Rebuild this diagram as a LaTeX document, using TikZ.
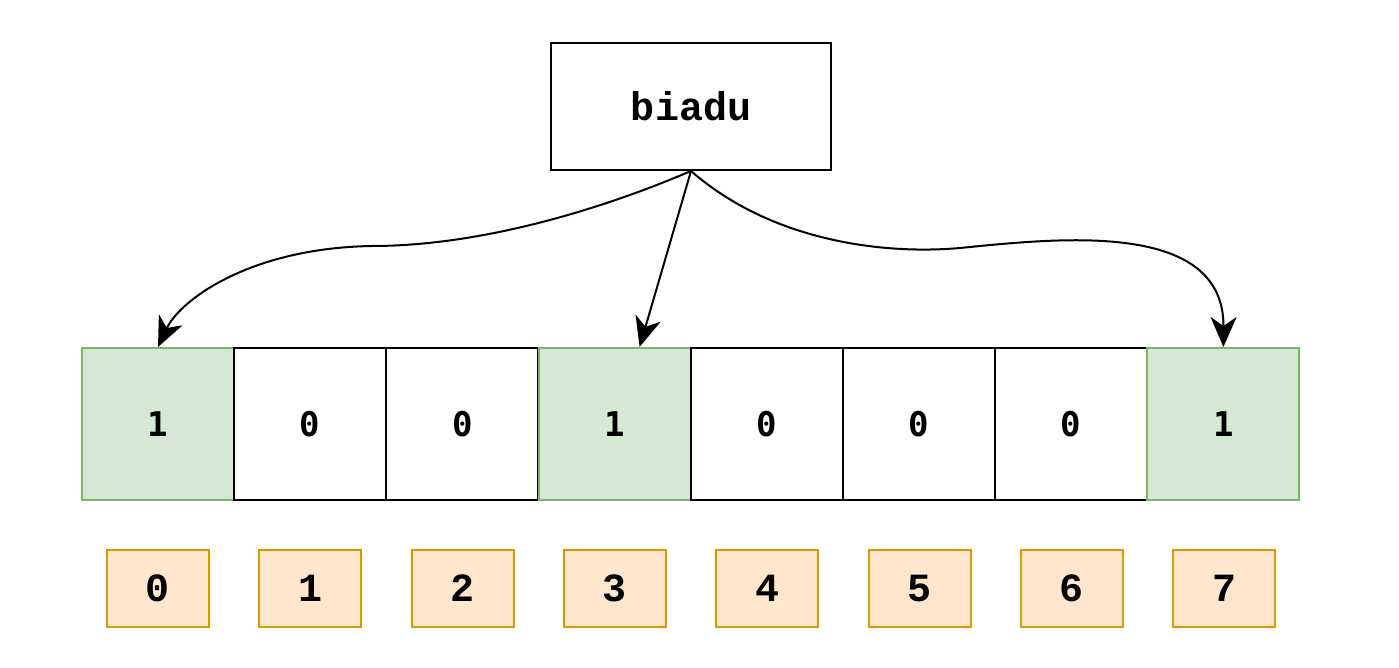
\documentclass[tikz,border=0pt]{standalone}
\usepackage{fontspec}
\setmonofont{Liberation Mono}
\newfontfamily\cellfont{DejaVu Sans Mono}
\usetikzlibrary{arrows.meta,calc}
\definecolor{hitfill}{HTML}{D5E8D4}
\definecolor{hitdraw}{HTML}{82B366}
\definecolor{idxfill}{HTML}{FFE6CC}
\definecolor{idxdraw}{HTML}{D79B00}
\tikzset{
    bit/.style={draw=black, fill=white, line width=2pt, minimum width=152pt, minimum height=152pt,
        inner sep=0pt, font=\cellfont\bfseries\fontsize{34}{34}\selectfont},
    hit/.style={bit, draw=hitdraw, fill=hitfill},
    idx/.style={draw=idxdraw, fill=idxfill, line width=2pt, minimum width=102pt, minimum height=77pt,
        inner sep=0pt, font=\ttfamily\bfseries\fontsize{40}{40}\selectfont},
    hashline/.style={line width=2pt, -{Stealth[length=30pt,width=26pt,inset=9pt]}}
}
\begin{document}
\begin{tikzpicture}[x=1pt, y=-1pt]
    \useasboundingbox (0,0) rectangle (1399,668);

    % 字符串
    \node[draw, line width=2pt, minimum width=280pt, minimum height=127pt,
        font=\ttfamily\bfseries\fontsize{40}{40}\selectfont] (key) at (691,106.5) {biadu};

    % 位数组
    \foreach \b [count=\i from 0] in {1,0,0,1,0,0,0,1} {
        \ifnum\b=1
            \node[hit] (c\i) at ({158+152.2*\i},424) {\b};
        \else
            \node[bit] (c\i) at ({158+152.2*\i},424) {\b};
        \fi
    }

    % 下标
    \foreach \i in {0,...,7}
        \node[idx] (n\i) at ({158+152.3*\i},588.5) {\i};

    % 三个哈希映射
    \draw[hashline] (key.south) .. controls (600,210) and (480,246) .. (372,246)
        .. controls (250,248) and (180,300) .. (c0.north);
    \draw[hashline] (key.south) -- ($(c3.north)+(25,0)$);
    \draw[hashline] (key.south) .. controls (770,240) and (880,255) .. (960,248)
        .. controls (1060,238) and (1224,220) .. (c7.north);

\end{tikzpicture}
\end{document}
